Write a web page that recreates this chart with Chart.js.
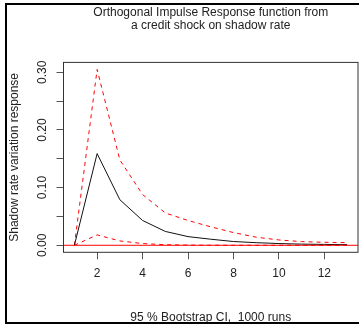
<!DOCTYPE html>
<html>
<head>
<meta charset="utf-8">
<script src="https://cdn.jsdelivr.net/npm/chart.js@4"></script>
<style>
  body { margin: 0; background: #fff; }
  canvas { display: block; }
</style>
</head>
<body>
<canvas id="irfChart" width="359" height="325"></canvas>
<script>
const ctx = document.getElementById('irfChart');

// horizon steps and responses
const pasos = [1, 2, 3, 4, 5, 6, 7, 8, 9, 10, 11, 12, 13];
const respuesta = [0, 0.159, 0.079, 0.043, 0.024, 0.015, 0.0105, 0.0065, 0.0045, 0.003, 0.002, 0.0015, 0.001];
const superior = [0, 0.305, 0.148, 0.088, 0.056, 0.043, 0.032, 0.022, 0.014, 0.0092, 0.0063, 0.0052, 0.0045];
const inferior = [0, 0.018, 0.0075, 0.003, 0.001, 0.0003, 0.0001, 0, 0, 0, 0, 0, 0];

const xTicks = [2, 4, 6, 8, 10, 12];
const yTicks = [0, 0.05, 0.10, 0.15, 0.20, 0.25, 0.30];
const yTickLabels = ['0.00', '', '0.10', '', '0.20', '', '0.30'];

const puntos = (vals) => pasos.map((p, i) => ({ x: p, y: vals[i] }));

Chart.defaults.font.family = "'Liberation Sans', Arial, sans-serif";
Chart.defaults.font.size = 12;
Chart.defaults.color = '#222';

// box round the plot, red zero line and the outer frame
const marcoPlugin = {
  id: 'marco',
  afterDatasetsDraw(chart) {
    const { ctx, chartArea: a, scales } = chart;
    const y0 = scales.y.getPixelForValue(0);
    ctx.save();
    ctx.strokeStyle = 'red';
    ctx.lineWidth = 1;
    ctx.beginPath();
    ctx.moveTo(a.left, y0);
    ctx.lineTo(a.right, y0);
    ctx.stroke();

    ctx.strokeStyle = '#333';
    ctx.strokeRect(a.left, a.top, a.right - a.left, a.bottom - a.top);

    ctx.strokeStyle = '#000';
    ctx.lineWidth = 2;
    ctx.beginPath();
    ctx.moveTo(360, 4);
    ctx.lineTo(6, 4);
    ctx.lineTo(6, 323);
    ctx.lineTo(360, 323);
    ctx.stroke();
    ctx.restore();
  }
};

const myChart = new Chart(ctx, {
  type: 'line',
  data: {
    datasets: [
      {
        label: 'irf',
        data: puntos(respuesta),
        borderColor: '#111',
        borderWidth: 1,
        pointRadius: 0,
        tension: 0
      },
      {
        label: 'Upper',
        data: puntos(superior),
        borderColor: 'red',
        borderWidth: 1,
        borderDash: [4, 4],
        pointRadius: 0,
        tension: 0
      },
      {
        label: 'Lower',
        data: puntos(inferior),
        borderColor: 'red',
        borderWidth: 1,
        borderDash: [4, 4],
        pointRadius: 0,
        tension: 0
      }
    ]
  },
  options: {
    responsive: false,
    animation: false,
    devicePixelRatio: 1,
    layout: {
      padding: { top: 0, left: 0, right: 1, bottom: 0 }
    },
    plugins: {
      legend: { display: false },
      tooltip: { enabled: false },
      title: {
        display: true,
        fullSize: false,
        text: ['Orthogonal Impulse Response function from', 'a credit shock on shadow rate'],
        font: { size: 12, weight: 'normal', lineHeight: 1.15 },
        color: '#222',
        padding: { top: 5.4, bottom: 29.4 }
      }
    },
    scales: {
      x: {
        type: 'linear',
        min: 0.52,
        max: 13.48,
        afterBuildTicks: (scale) => { scale.ticks = xTicks.map(v => ({ value: v })); },
        afterFit: (scale) => { scale.height = 72.7; },
        border: { display: false },
        grid: { drawOnChartArea: false, drawTicks: true, tickLength: 7, color: '#555' },
        ticks: { autoSkip: false, maxRotation: 0, padding: 7, color: '#222' },
        title: {
          display: true,
          text: '95 % Bootstrap CI,  1000 runs',
          color: '#222',
          padding: { top: 0, bottom: 0 }
        }
      },
      y: {
        min: -0.0122,
        max: 0.3172,
        afterBuildTicks: (scale) => { scale.ticks = yTicks.map(v => ({ value: v })); },
        afterFit: (scale) => { scale.width = 63.5; },
        border: { display: false },
        grid: { drawOnChartArea: false, drawTicks: true, tickLength: 7, color: '#555' },
        ticks: {
          autoSkip: false,
          minRotation: 90,
          maxRotation: 90,
          crossAlign: 'center',
          padding: 2,
          color: '#222',
          callback: (value, index) => yTickLabels[index]
        },
        title: {
          display: true,
          text: 'Shadow rate variation response',
          color: '#222',
          padding: { top: 7, bottom: 0 }
        }
      }
    }
  },
  plugins: [marcoPlugin]
});
</script>
</body>
</html>
